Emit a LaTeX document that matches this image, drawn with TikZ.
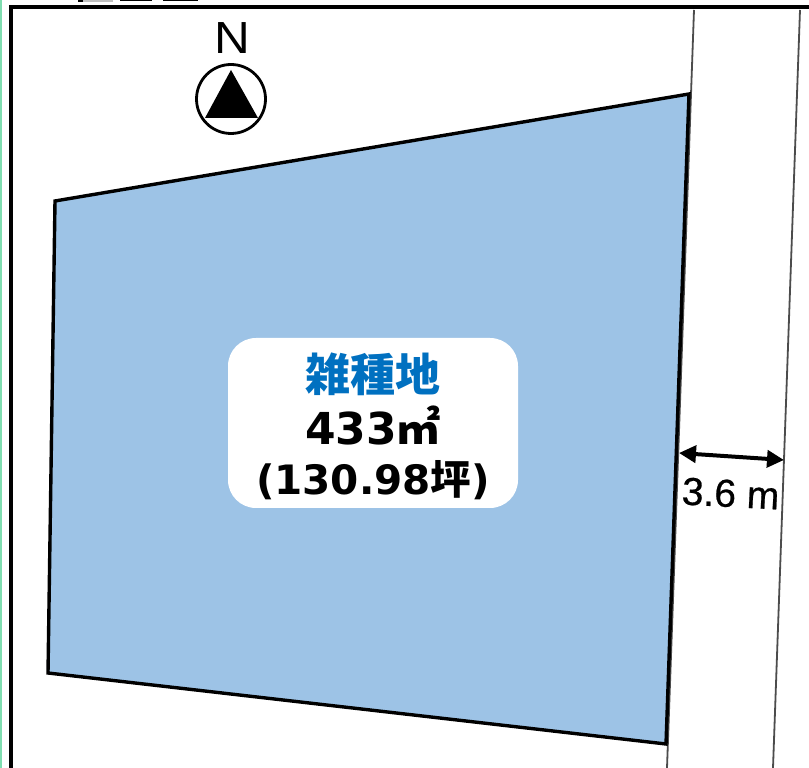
\documentclass[tikz,border=0pt]{standalone}
\usepackage{fontspec}
\setmainfont{Liberation Sans}
\newfontfamily\cjk{Noto Sans CJK JP}
\newfontfamily\wide{DejaVu Sans}
\newfontfamily\medium{Liberation Sans}[FakeBold=0.6]
\usetikzlibrary{arrows.meta}
\definecolor{lotblue}{HTML}{9DC3E6}
\definecolor{titleblue}{HTML}{0070C0}
\definecolor{edgegreen}{HTML}{7FDDB0}
\tikzset{
  x=1pt,y=1pt,
  road/.style={draw=black!70,line width=1.8pt},
  lot/.style={draw=black,fill=lotblue,line width=3.4pt,line join=miter},
  tag/.style={inner sep=0pt,anchor=base},
  dimline/.style={line width=4pt,{Triangle[length=17pt,width=17pt]}-{Triangle[length=17pt,width=17pt]}},
}
\begin{document}
\begin{tikzpicture}
\useasboundingbox (0,0) rectangle (809,768);
\fill[white] (0,0) rectangle (809,768);
\fill[edgegreen] (0,0) rectangle (1.5,768);
% clipped heading remains
\fill[black!25] (83,766) rectangle (113,768);
\fill[black] (78,766) rectangle (83,768);
\fill[black] (120,766.5) rectangle (152,768);
\fill[black] (163,766.5) rectangle (198,768);
% frame
\draw[black,line width=4pt] (10.5,-5) -- (10.5,761) -- (815,761);
% road
\coordinate (r1) at (694,758);
\coordinate (r2) at (667,0);
\coordinate (r3) at (800,758);
\coordinate (r4) at (773,0);
\draw[road] (r1) -- (r2);
\draw[road] (r3) -- (r4);
% lot
\draw[lot] (55,567) -- (689,674) -- (666,24) -- (48,95) -- cycle;
% compass
\node[draw=black,line width=2.8pt,circle,minimum size=69pt,inner sep=0pt] (compass) at (231,669) {};
\fill[black] (231,698) -- (258,650) -- (205,650) -- cycle;
\node[tag,xscale=1.1,font=\fontsize{45}{45}\selectfont] (north) at (232,714) {N};
% label box
\node[fill=white,rounded corners=28pt,minimum width=290pt,minimum height=170pt,inner sep=0pt] (box) at (373,345) {};
\node[tag,text=titleblue,font=\cjk\bfseries\fontsize{45}{45}\selectfont] (use) at (373,376) {雑種地};
\node[tag,font=\wide\bfseries\fontsize{44}{44}\selectfont] (area) at (373,323) {433{\cjk\bfseries ㎡}};
\node[tag,font=\wide\bfseries\fontsize{40.5}{40.5}\selectfont] (tsubo) at (373,273) {(130.98{\cjk\bfseries 坪})};
% width dimension
\coordinate (d1) at (679,315);
\coordinate (d2) at (784,308);
\draw[dimline] (d1) -- (d2);
\node[tag,rotate=-3,font=\medium\fontsize{39}{39}\selectfont] (width) at (730,261) {3.6 m};
\end{tikzpicture}
\end{document}
